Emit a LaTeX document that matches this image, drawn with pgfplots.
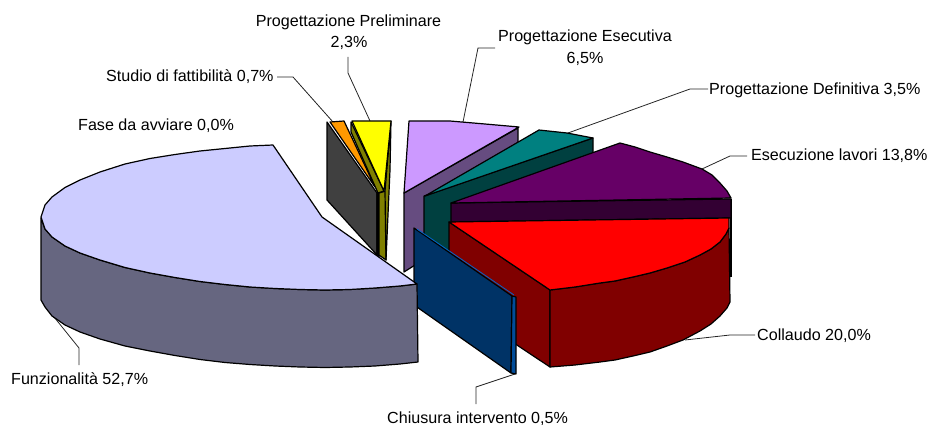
\documentclass[border=0pt]{standalone}
\usepackage{fontspec}
\setmainfont{Liberation Sans}
\usepackage{pgfplots}
\pgfplotsset{compat=1.18}

% colori delle fette (faccia superiore / fianco)
\definecolor{funzTop}{HTML}{CCCCFF}
\definecolor{funzSide}{HTML}{666680}
\definecolor{chiusTop}{HTML}{0066CC}
\definecolor{chiusSide}{HTML}{003366}
\definecolor{chiusEnd}{HTML}{004C99}
\definecolor{collTop}{HTML}{FF0000}
\definecolor{collSide}{HTML}{800000}
\definecolor{esecTop}{HTML}{660066}
\definecolor{esecSide}{HTML}{330033}
\definecolor{defiTop}{HTML}{008080}
\definecolor{defiSide}{HTML}{004040}
\definecolor{esvaTop}{HTML}{CC99FF}
\definecolor{esvaSide}{HTML}{664C80}
\definecolor{prelTop}{HTML}{FFFF00}
\definecolor{prelSide}{HTML}{808000}
\definecolor{studTop}{HTML}{FF9900}
\definecolor{studSide}{HTML}{404040}

\tikzset{
    face/.style={draw=black, line width=1.2pt, line join=round, fill=#1},
    leader/.style={draw=black!85, line width=0.8pt},
    lab/.style={anchor=base west, inner sep=0pt, font=\fontsize{16.1}{18}\selectfont, text=black},
    labc/.style={anchor=base, inner sep=0pt, font=\fontsize{16.1}{18}\selectfont, text=black}
}

\begin{document}
\begin{tikzpicture}
\begin{axis}[
    width=930pt, height=425pt,
    scale only axis,
    xmin=0, xmax=930,
    ymin=0, ymax=425,
    y dir=reverse,
    hide axis,
    clip=false
]

% linee di richiamo
\addplot[leader] coordinates {(277,77) (293,77) (333,122)};
\addplot[leader] coordinates {(348,57) (348,73) (370,121)};
\addplot[leader] coordinates {(495,48) (478,48) (463,122)};
\addplot[leader] coordinates {(708,89) (690,89) (568,133)};
\addplot[leader] coordinates {(747,156) (730,156) (702,169)};
\addplot[leader] coordinates {(755,335) (730,335) (685,340)};
\addplot[leader] coordinates {(476,404) (476,387) (515,374)};
\addplot[leader] coordinates {(79,365) (79,348) (50,312)};

% Progettazione Esecutiva
\addplot[face=esvaSide] coordinates {(404,193) (518,128) (518,200) (404,272)} --cycle;
\addplot[face=esvaTop] coordinates {(409,121) (450,121) (485,124) (519,127) (404,193)} --cycle;

% Progettazione Definitiva
\addplot[face=defiSide] coordinates {(424,196) (593,138) (593,212) (424,270)} --cycle;
\addplot[face=defiTop] coordinates {(425,196) (539,130) (567,133) (593,138)} --cycle;

% Esecuzione lavori
\addplot[draw=black, line width=1.2pt] coordinates {(731,199) (731,277)};
\addplot[face=esecSide] coordinates {(451,203) (451,222) (731,218) (731,199)} --cycle;
\addplot[face=esecTop] coordinates {(451,203) (620,143) (635,147) (650,152) (667,157) (683,162) (702,169) (712,175) (720,183) (727,191) (731,198)} --cycle;

% Collaudo
\addplot[face=collSide] coordinates {(449,222) (550,290) (550,367) (449,300)} --cycle;
\addplot[face=collSide] coordinates {(550,290) (575,287) (600,283) (615,281) (633,277) (650,273) (667,268) (685,262) (700,255) (711,249) (720,242) (726,234) (729,228) (730,302) (727,308) (720,316) (711,324) (700,331) (683,340) (667,346) (650,352) (633,356) (615,360) (600,362) (575,365) (550,367)} --cycle;
\addplot[face=collTop] coordinates {(449,222) (729,218) (729,228) (726,234) (720,242) (711,249) (700,255) (685,262) (667,268) (650,273) (633,277) (615,281) (600,283) (575,287) (550,290)} --cycle;

% Studio di fattibilita
\addplot[face=studSide] coordinates {(327,122) (377,193) (377,255) (327,200)} --cycle;
\addplot[face=black] coordinates {(377,193) (379,193) (379,257) (377,255)} --cycle;
\addplot[face=studTop] coordinates {(330,122) (344,121) (375,187)} --cycle;

% Progettazione Preliminare
\addplot[face=prelSide] coordinates {(351,122) (351,132) (378,193) (384,191)} --cycle;
\addplot[face=prelSide] coordinates {(379,193) (386,191) (386,260) (379,255)} --cycle;
\addplot[face=prelSide] coordinates {(391,121) (390,170) (386,260) (385,191)} --cycle;
\addplot[face=prelTop] coordinates {(352,121) (391,121) (384,191)} --cycle;

% Chiusura intervento
\addplot[face=chiusSide] coordinates {(414,228) (512,296) (511,373) (414,305)} --cycle;
\addplot[face=chiusEnd] coordinates {(512,296) (516,297) (516,374) (511,373)} --cycle;
\addplot[draw=chiusTop, line width=0.8pt] coordinates {(417,229) (514,295)};

% Funzionalita
\addplot[face=funzSide] coordinates {(41,218) (45,229) (52,237) (65,246) (80,253) (100,260) (125,267.5) (150,273) (175,277.5) (200,281.5) (225,284.5) (250,287) (275,288.5) (300,289.5) (325,290) (350,289.5) (375,288) (400,286) (417,284) (418,362) (400,364) (375,366) (350,367) (325,367.5) (300,367) (275,366) (250,364.5) (225,362.5) (200,359.5) (175,355.5) (150,351) (125,346) (100,339) (80,332) (65,325) (52,316) (45,307) (41,300)} --cycle;
\addplot[face=funzTop] coordinates {(273,145) (250,146) (225,148.5) (200,151) (175,154.5) (150,158.5) (125,164) (100,172) (80,180) (65,187.5) (52,197) (45,205) (41,217) (45,229) (52,237) (65,246) (80,253) (100,260) (125,267.5) (150,273) (175,277.5) (200,281.5) (225,284.5) (250,287) (275,288.5) (300,289.5) (325,290) (350,289.5) (375,288) (400,286) (417,284) (322,217)} --cycle;

% etichette
\node[labc] at (axis cs:348.5,27) {Progettazione Preliminare};
\node[labc] at (axis cs:349,48) {2,3\%};
\node[lab] at (axis cs:106,82) {Studio di fattibilità 0,7\%};
\node[lab] at (axis cs:78,131) {Fase da avviare 0,0\%};
\node[labc] at (axis cs:585,42) {Progettazione Esecutiva};
\node[labc] at (axis cs:585,64) {6,5\%};
\node[lab] at (axis cs:709,95) {Progettazione Definitiva 3,5\%};
\node[lab] at (axis cs:751,161) {Esecuzione lavori 13,8\%};
\node[lab] at (axis cs:757,340) {Collaudo 20,0\%};
\node[lab] at (axis cs:387,423) {Chiusura intervento 0,5\%};
\node[lab] at (axis cs:11,384) {Funzionalità 52,7\%};

\end{axis}
\pgfresetboundingbox
\path[use as bounding box] (0,0) rectangle (930pt,425pt);
\end{tikzpicture}
\end{document}
